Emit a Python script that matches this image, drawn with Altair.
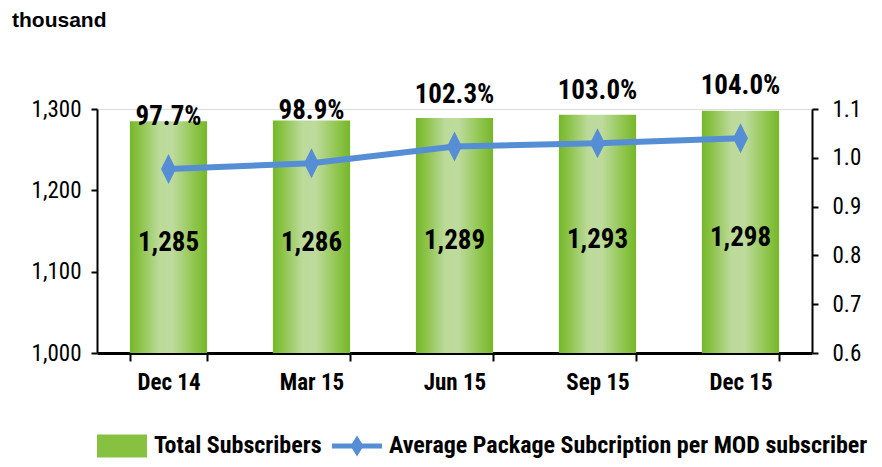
import altair as alt
import pandas as pd

# ---- data ----
periods = ["Dec 14", "Mar 15", "Jun 15", "Sep 15", "Dec 15"]
subscribers = [1285, 1286, 1289, 1293, 1298]            # thousand
avg_packages = [0.977, 0.989, 1.023, 1.030, 1.040]       # per MOD subscriber
series_names = ["Total Subscribers", "Average Package Subcription per MOD subscriber"]
left_ticks = [1000, 1100, 1200, 1300]
right_ticks = [0.6, 0.7, 0.8, 0.9, 1.0, 1.1]

df = pd.DataFrame({"period": periods, "subs": subscribers, "avg": avg_packages})
legend_df = pd.DataFrame({"item": series_names})

NARROW = "Liberation Sans Narrow, Arial Narrow, Roboto Condensed, Roboto, sans-serif"
GREEN = "#86C13F"
BLUE = "#558ED5"

x_enc = alt.X(
    "period:N",
    sort=periods,
    title=None,
    scale=alt.Scale(paddingInner=0.46, paddingOuter=0.23),
    axis=alt.Axis(
        labelAngle=0, labelFont=NARROW, labelFontSize=23, labelFontWeight="bold",
        labelColor="black", labelPadding=10, domainColor="black", domainWidth=3,
        tickColor="black", tickWidth=2, tickSize=8, tickBand="extent", grid=False,
    ),
)

left_scale = alt.Scale(domain=[1000, 1300], zero=False)
left_axis = alt.Axis(
    values=left_ticks, format=",.0f", labelFont=NARROW, labelFontSize=23,
    labelColor="black", labelPadding=10, domainColor="black", domainWidth=2,
    tickColor="black", tickWidth=2, tickSize=6, grid=False, title=None,
)
right_scale = alt.Scale(domain=[0.6, 1.1], zero=False)
right_axis = alt.Axis(
    values=right_ticks, format=".1f", orient="right", labelFont=NARROW,
    labelFontSize=23, labelColor="black", labelPadding=14, domainColor="black",
    domainWidth=2, tickColor="black", tickWidth=2, tickSize=6, grid=False, title=None,
)

gradient = alt.Gradient(
    gradient="linear", x1=0, x2=1, y1=0, y2=0,
    stops=[
        alt.GradientStop(color="#76B72A", offset=0.0),
        alt.GradientStop(color="#8AC246", offset=0.12),
        alt.GradientStop(color="#BCDA9A", offset=0.38),
        alt.GradientStop(color="#BEDB9D", offset=0.55),
        alt.GradientStop(color="#8DC449", offset=0.85),
        alt.GradientStop(color="#76B72A", offset=1.0),
    ],
)

base = alt.Chart(df)

bars = base.mark_bar(color=gradient).encode(
    x=x_enc,
    y=alt.Y("subs:Q", scale=left_scale, axis=left_axis),
    y2=alt.datum(1000),
)

bar_text = base.transform_calculate(
    mid="(datum.subs + 1000) / 2"
).mark_text(
    font=NARROW, fontSize=27, fontWeight="bold", color="black", baseline="middle", dy=6
).encode(
    x=x_enc,
    y=alt.Y("mid:Q", scale=left_scale, axis=left_axis),
    text=alt.Text("subs:Q", format=","),
)

left = alt.layer(bars, bar_text)

line = base.mark_line(color=BLUE, strokeWidth=6).encode(
    x=x_enc,
    y=alt.Y("avg:Q", scale=right_scale, axis=right_axis),
)

diamond = "M0,-1L0.5,0L0,1L-0.5,0Z"
points = base.mark_point(
    shape=diamond, filled=True, color=BLUE, size=900, opacity=1
).encode(
    x=x_enc,
    y=alt.Y("avg:Q", scale=right_scale, axis=right_axis),
)

pct_text = base.mark_text(
    font=NARROW, fontSize=27, fontWeight="bold", color="black",
    baseline="alphabetic", dy=-44,
).encode(
    x=x_enc,
    y=alt.Y("avg:Q", scale=right_scale, axis=right_axis),
    text=alt.Text("avg:Q", format=".1%"),
)

rect_path = "M-1,-0.46H1V0.46H-1Z"
line_path = "M-1,-0.1H-0.2L0,-0.42L0.2,-0.1H1V0.1H0.2L0,0.42L-0.2,0.1H-1Z"
leg = alt.Legend(
    title=None, orient="none", legendX=0, legendY=312, direction="horizontal",
    columns=2, labelFont=NARROW, labelFontSize=24, labelFontWeight="bold",
    labelColor="black", labelLimit=700, labelOffset=7, columnPadding=10,
    symbolSize=2500, symbolOpacity=1, symbolStrokeWidth=0,
)
legend_layer = alt.Chart(legend_df).mark_point(
    filled=True, opacity=0, size=2500
).encode(
    color=alt.Color("item:N", scale=alt.Scale(domain=series_names, range=[GREEN, BLUE]), legend=leg),
    shape=alt.Shape("item:N", scale=alt.Scale(domain=series_names, range=[rect_path, line_path]), legend=leg),
)

right = alt.layer(line, points, pct_text, legend_layer)

chart = alt.layer(left, right).resolve_scale(y="independent").properties(
    width=715,
    height=244,
    autosize=alt.AutoSizeParams(type="none"),
    padding={"left": 89, "top": 101, "right": 62, "bottom": 106},
    title=alt.TitleParams(
        "thousand", anchor="start", frame="group", dx=-85, dy=-41, offset=0,
        font="Liberation Sans, Arial, sans-serif", fontSize=21, fontWeight="bold",
        color="black", baseline="top",
    ),
).configure_view(stroke=None).configure(background="white")

chart.save("out.html", embed_options={"renderer": "svg", "actions": False})
